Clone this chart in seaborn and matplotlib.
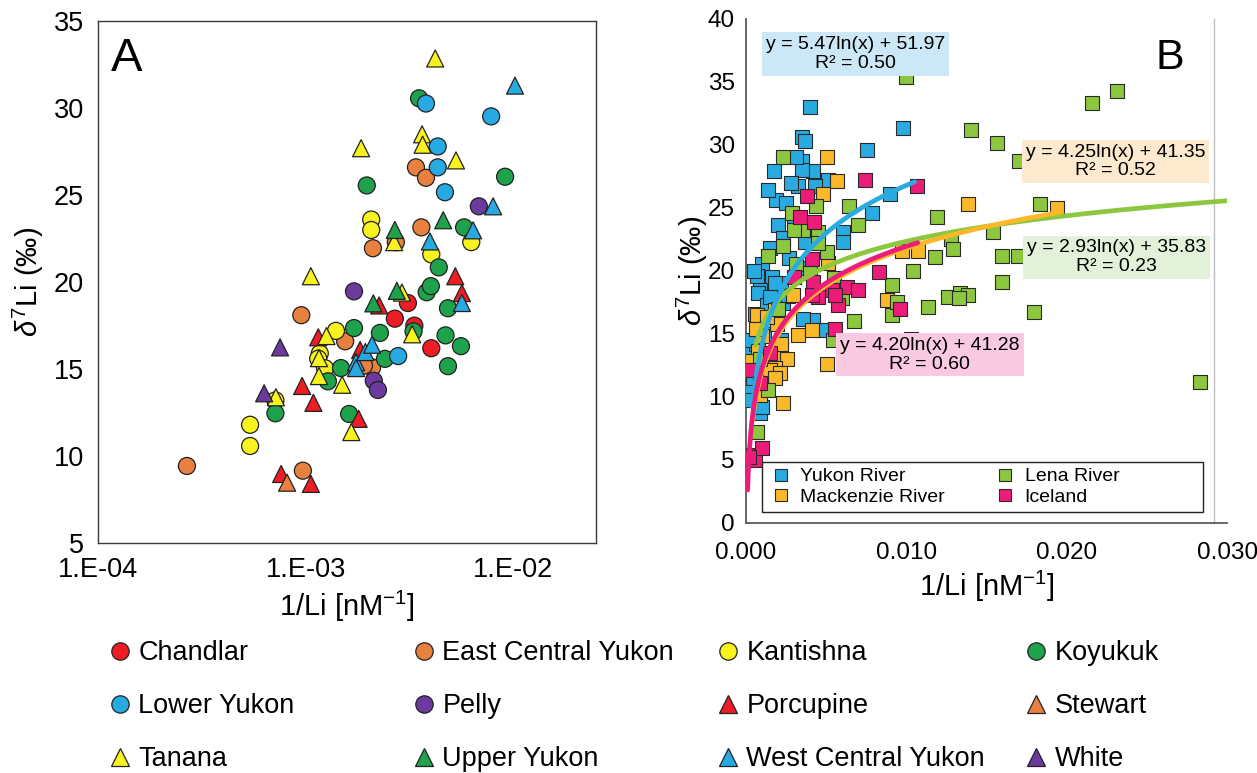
import numpy as np
import pandas as pd
import matplotlib
matplotlib.use("Agg")
import matplotlib.pyplot as plt
from matplotlib.lines import Line2D
from matplotlib.patches import Rectangle
from matplotlib.ticker import FixedLocator, FixedFormatter, NullLocator
import seaborn as sns

sns.set_style("white")
plt.rcParams["font.family"] = ["Liberation Sans", "DejaVu Sans"]
plt.rcParams["mathtext.fontset"] = "custom"
plt.rcParams["mathtext.rm"] = "Liberation Sans"
plt.rcParams["mathtext.it"] = "Liberation Sans:italic"
plt.rcParams["mathtext.bf"] = "Liberation Sans:bold"
for key in ["text.color", "axes.labelcolor", "xtick.color", "ytick.color"]:
    plt.rcParams[key] = "black"

# ---------------- Panel A: Yukon sub-basins (1/Li vs d7Li) ----------------
basins = ["Chandlar", "East Central Yukon", "Kantishna", "Koyukuk",
          "Lower Yukon", "Pelly", "Porcupine", "Stewart",
          "Tanana", "Upper Yukon", "West Central Yukon", "White"]
basin_colors = ["#EE1C25", "#E8803F", "#F8F21E", "#1EA24B",
                "#27AAE1", "#6B3A9C", "#EE1C25", "#E8803F",
                "#F8F21E", "#1EA24B", "#27AAE1", "#6B3A9C"]
basin_markers = ["o", "o", "o", "o", "o", "o", "^", "^", "^", "^", "^", "^"]

chandlar_x = [3.11e-3, 2.69e-3, 3.34e-3, 4.03e-3]
chandlar_y = [18.8, 17.9, 17.5, 16.2]
east_central_x = [2.68e-4, 9.7e-4, 9.53e-4, 1.55e-3, 2.09e-3, 1.91e-3, 2.11e-3, 2.72e-3, 3.40e-3, 3.80e-3, 3.61e-3]
east_central_y = [9.43, 9.16, 18.1, 16.6, 15.1, 15.2, 21.95, 22.3, 26.6, 26.0, 23.15]
kantishna_x = [5.4e-4, 5.4e-4, 7.15e-4, 1.17e-3, 1.15e-3, 1.24e-3, 1.40e-3, 2.07e-3, 2.07e-3, 4.03e-3, 6.28e-3]
kantishna_y = [11.8, 10.58, 13.2, 15.9, 15.6, 15.05, 17.2, 23.6, 23.0, 21.6, 22.3]
koyukuk_x = [7.15e-4, 1.28e-3, 1.48e-3, 1.62e-3, 1.71e-3, 1.97e-3, 2.28e-3, 2.41e-3, 3.31e-3, 3.52e-3,
             3.83e-3, 4.01e-3, 4.38e-3, 4.85e-3, 4.72e-3, 4.85e-3, 5.6e-3, 5.8e-3, 9.14e-3]
koyukuk_y = [12.46, 14.3, 15.06, 12.42, 17.36, 25.56, 17.08, 15.59, 17.17, 30.57,
             19.42, 19.77, 20.85, 18.5, 16.94, 15.17, 16.32, 23.15, 26.06]
lower_yukon_x = [2.79e-3, 3.80e-3, 4.33e-3, 4.33e-3, 4.69e-3, 7.83e-3]
lower_yukon_y = [15.75, 30.27, 27.8, 26.6, 25.17, 29.53]
pelly_x = [1.71e-3, 2.13e-3, 2.23e-3, 6.83e-3]
pelly_y = [19.47, 14.33, 13.8, 24.36]
porcupine_x = [7.62e-4, 1.06e-3, 9.62e-4, 1.09e-3, 1.15e-3, 1.80e-3, 1.83e-3, 2.26e-3, 5.26e-3, 5.66e-3]
porcupine_y = [8.97, 8.4, 14.03, 13.06, 16.83, 12.14, 16.1, 18.66, 20.34, 19.37]
stewart_x = [8.14e-4]
stewart_y = [8.47]
tanana_x = [7.19e-4, 1.06e-3, 1.16e-3, 1.16e-3, 1.26e-3, 1.50e-3, 1.66e-3, 1.85e-3, 2.67e-3, 2.91e-3,
            3.26e-3, 3.64e-3, 3.66e-3, 4.21e-3, 5.3e-3]
tanana_y = [13.38, 20.34, 15.63, 14.6, 16.9, 14.1, 11.38, 27.7, 22.3, 19.4,
            17.0, 28.5, 27.9, 32.86, 27.0]
upper_yukon_x = [2.12e-3, 2.69e-3, 2.75e-3, 4.6e-3]
upper_yukon_y = [18.78, 23.0, 19.5, 23.56]
west_central_x = [1.75e-3, 1.75e-3, 1.94e-3, 2.09e-3, 3.97e-3, 5.66e-3, 6.41e-3, 8.0e-3, 1.02e-2]
west_central_y = [15.4, 15.06, 15.98, 16.4, 22.34, 18.8, 22.98, 24.36, 31.3]
white_x = [6.31e-4, 7.53e-4]
white_y = [13.61, 16.25]

basin_x = [chandlar_x, east_central_x, kantishna_x, koyukuk_x, lower_yukon_x, pelly_x,
           porcupine_x, stewart_x, tanana_x, upper_yukon_x, west_central_x, white_x]
basin_y = [chandlar_y, east_central_y, kantishna_y, koyukuk_y, lower_yukon_y, pelly_y,
           porcupine_y, stewart_y, tanana_y, upper_yukon_y, west_central_y, white_y]

# ---------------- Panel B: large rivers and Iceland ----------------
rivers = ["Yukon River", "Mackenzie River", "Lena River", "Iceland"]
river_colors = ["#29ABE2", "#FBB829", "#8DC63F", "#EC1C79"]

yukon_x = [0.00399, 0.00347, 0.00368, 0.00176, 0.00347, 0.00420, 0.00347, 0.00326, 0.00510, 0.00430,
           0.00187, 0.00201, 0.00606, 0.00606, 0.00232, 0.00368, 0.00098, 0.00160, 0.00087, 0.00220,
           0.00752, 0.00980, 0.00897, 0.00783, 0.00077, 0.00180, 0.00056, 0.00129, 0.00232, 0.00220,
           0.00036, 0.00025, 0.00087, 0.00014, 0.00420, 0.00480, 0.00357, 0.00098, 0.00300, 0.00270,
           0.00150, 0.00110, 0.00060, 0.00030, 0.00020, 0.00045, 0.00120, 0.00260, 0.00330, 0.00070,
           0.00050, 0.00150, 0.00280, 0.00250, 0.00310, 0.00140]
yukon_y = [33.0, 30.6, 30.3, 27.9, 28.7, 27.9, 28.0, 26.7, 27.2, 26.7,
           25.6, 23.6, 23.1, 22.3, 22.6, 22.3, 20.5, 19.5, 18.5, 19.0,
           29.6, 31.3, 26.1, 24.6, 18.2, 19.0, 16.6, 17.3, 17.4, 14.5,
           13.4, 10.5, 8.7, 9.7, 16.1, 15.3, 16.2, 9.2, 24.3, 21.0,
           21.8, 15.0, 14.2, 12.2, 14.5, 11.5, 12.8, 18.0, 20.2, 19.6,
           20.0, 17.9, 27.0, 25.4, 29.0, 26.4]
mackenzie_x = [0.00503, 0.00565, 0.00482, 0.00510, 0.00970, 0.01070, 0.00877, 0.00295, 0.01385, 0.01940,
               0.00066, 0.00180, 0.00326, 0.00410, 0.00190, 0.00077, 0.00170, 0.00254, 0.00180, 0.00150,
               0.00210, 0.00180, 0.00230, 0.00087, 0.00503, 0.00100, 0.00040, 0.00220, 0.00130, 0.00060]
mackenzie_y = [29.0, 27.1, 26.1, 20.6, 21.6, 21.6, 17.7, 18.1, 25.3, 25.0,
               16.5, 16.9, 14.9, 15.3, 15.8, 13.6, 13.2, 13.0, 12.3, 12.1,
               11.9, 11.5, 9.5, 10.1, 12.6, 14.8, 12.8, 14.2, 16.3, 15.4]
lena_x = [0.00997, 0.02154, 0.02310, 0.01400, 0.01562, 0.01703, 0.01832, 0.01192, 0.01537, 0.01277,
          0.01288, 0.01178, 0.01593, 0.01697, 0.01038, 0.01593, 0.00910, 0.01260, 0.01333, 0.01385,
          0.01330, 0.01136, 0.01794, 0.00910, 0.01030, 0.00670, 0.00940, 0.02830, 0.00232, 0.00640,
          0.00700, 0.00285, 0.00232, 0.00436, 0.00357, 0.00450, 0.00300, 0.00139, 0.00503, 0.00450,
          0.00544, 0.00139, 0.00066, 0.00310, 0.00400, 0.00200, 0.00090, 0.00550, 0.00600]
lena_y = [35.4, 33.3, 34.3, 31.2, 30.1, 28.7, 25.3, 24.3, 23.1, 22.5,
          21.7, 21.1, 21.2, 21.2, 20.0, 19.1, 18.9, 17.9, 18.2, 18.1,
          17.8, 17.1, 16.7, 16.5, 14.6, 16.0, 17.5, 11.2, 29.0, 25.1,
          23.6, 24.6, 22.0, 25.1, 23.2, 23.1, 23.2, 21.2, 21.5, 22.2,
          14.5, 10.5, 7.2, 20.5, 19.8, 17.0, 13.0, 19.4, 17.8]
iceland_x = [0.00741, 0.01063, 0.00378, 0.00336, 0.00424, 0.00410, 0.00830, 0.00627, 0.00700, 0.00420,
             0.00534, 0.00450, 0.00575, 0.00410, 0.00554, 0.00554, 0.00036, 0.00087, 0.00004, 0.00056,
             0.00098, 0.00960, 0.00020, 0.00300, 0.00150]
iceland_y = [27.2, 26.7, 25.9, 24.3, 23.9, 20.9, 19.9, 18.7, 18.5, 19.1,
             18.5, 17.9, 17.3, 18.1, 18.1, 15.4, 12.1, 11.1, 5.4, 5.0,
             5.9, 17.0, 5.2, 19.5, 13.5]

river_x = [yukon_x, mackenzie_x, lena_x, iceland_x]
river_y = [yukon_y, mackenzie_y, lena_y, iceland_y]

# logarithmic fits y = a ln(x) + b
fit_slope = [5.47, 4.25, 2.93, 4.20]
fit_intercept = [51.97, 41.35, 35.83, 41.28]
fit_r2 = [0.50, 0.52, 0.23, 0.60]
fit_xmin = [0.0004, 0.0004, 0.0006, 0.0001]
fit_xmax = [0.0105, 0.0195, 0.0300, 0.0107]
fit_box_colors = ["#CCE8F6", "#FDE9CD", "#E3F0DA", "#F9C8E1"]
fit_box_pos = [(0.228, 0.930), (0.768, 0.716), (0.770, 0.527), (0.382, 0.333)]

# ---------------- figure ----------------
fig = plt.figure(figsize=(12.57, 7.73), dpi=100)
axA = fig.add_axes([0.078, 0.2975, 0.396, 0.675])
axB = fig.add_axes([0.5935, 0.3238, 0.383, 0.652])

dfA = pd.concat([pd.DataFrame({"basin": name, "x": xs, "y": ys})
                 for name, xs, ys in zip(basins, basin_x, basin_y)], ignore_index=True)
palA = dict(zip(basins, basin_colors))
mkA = dict(zip(basins, basin_markers))
circ = dfA[dfA["basin"].map(mkA) == "o"]
tri = dfA[dfA["basin"].map(mkA) == "^"]
sns.scatterplot(data=circ, x="x", y="y", hue="basin", palette=palA, marker="o",
                s=150, edgecolor="#222222", linewidth=0.9, legend=False, ax=axA, zorder=3)
sns.scatterplot(data=tri, x="x", y="y", hue="basin", palette=palA, marker="^",
                s=150, edgecolor="#222222", linewidth=0.9, legend=False, ax=axA, zorder=3)

axA.set_xscale("log")
axA.set_xlim(1e-4, 2.5e-2)
axA.set_ylim(5, 35)
axA.xaxis.set_major_locator(FixedLocator([1e-4, 1e-3, 1e-2]))
axA.xaxis.set_major_formatter(FixedFormatter(["1.E-04", "1.E-03", "1.E-02"]))
axA.xaxis.set_minor_locator(NullLocator())
axA.set_yticks(np.arange(5, 36, 5))
for sp in axA.spines.values():
    sp.set_visible(True)
    sp.set_color("#3A3A3A")
    sp.set_linewidth(1.0)
axA.tick_params(direction="in", length=5, width=1, color="#3A3A3A", labelsize=19.5, pad=10)
axA.set_xlabel(r"1/Li [nM$^{-1}$]", fontsize=21)
axA.set_ylabel(r"$\delta^{7}$Li (‰)", fontsize=21)
axA.xaxis.set_label_coords(0.5, -0.088)
axA.yaxis.set_label_coords(-0.104, 0.5)
axA.text(0.058, 0.927, "A", transform=axA.transAxes, fontsize=34, ha="center", va="center")
axA.grid(False)

# panel B scatter
dfB = pd.concat([pd.DataFrame({"river": name, "x": xs, "y": ys})
                 for name, xs, ys in zip(rivers, river_x, river_y)], ignore_index=True)
palB = dict(zip(rivers, river_colors))
for name in rivers:
    sns.scatterplot(data=dfB[dfB["river"] == name], x="x", y="y", color=palB[name], marker="s",
                    s=110, edgecolor="#2A2A2A", linewidth=0.8, legend=False, ax=axB, zorder=3)

# trend lines (drawn on top of the points)
for i in [2, 1, 0, 3]:
    xs = np.linspace(fit_xmin[i], fit_xmax[i], 300)
    ys = fit_slope[i] * np.log(xs) + fit_intercept[i]
    sns.lineplot(x=xs, y=ys, color=river_colors[i], linewidth=3.4, ax=axB, zorder=4,
                 sort=False, estimator=None)

for i in range(4):
    label = f"y = {fit_slope[i]:.2f}ln(x) + {fit_intercept[i]:.2f}\nR² = {fit_r2[i]:.2f}"
    axB.text(fit_box_pos[i][0], fit_box_pos[i][1], label, transform=axB.transAxes,
             fontsize=14, ha="center", va="center", linespacing=1.1, zorder=6,
             bbox=dict(boxstyle="square,pad=0.2", fc=fit_box_colors[i], ec="none"))

axB.set_xlim(0, 0.030)
axB.set_ylim(0, 40)
axB.set_xticks([0, 0.010, 0.020, 0.030])
axB.set_xticklabels(["0.000", "0.010", "0.020", "0.030"])
axB.set_yticks(np.arange(0, 41, 5))
axB.spines["top"].set_visible(False)
for side in ["left", "bottom"]:
    axB.spines[side].set_visible(True)
    axB.spines[side].set_color("#595959")
    axB.spines[side].set_linewidth(1.3)
axB.spines["right"].set_visible(True)
axB.spines["right"].set_color("#C0C0C0")
axB.spines["right"].set_linewidth(1.0)
axB.spines["right"].set_position(("axes", 0.972))
axB.tick_params(axis="y", direction="in", length=6, width=1, color="#595959", labelsize=17.5, pad=8)
axB.tick_params(axis="x", direction="in", length=0, labelsize=17.5, pad=14)
axB.tick_params(right=False)
axB.set_xlabel(r"1/Li [nM$^{-1}$]", fontsize=21)
axB.set_ylabel(r"$\delta^{7}$Li (‰)", fontsize=21)
axB.xaxis.set_label_coords(0.5, -0.092)
axB.yaxis.set_label_coords(-0.075, 0.5)
axB.text(0.88, 0.922, "B", transform=axB.transAxes, fontsize=31, ha="center", va="center")
axB.grid(False)

# legend frame for the river series
axB.add_patch(Rectangle((0.033, 0.021), 0.916, 0.099, transform=axB.transAxes,
                        fc="white", ec="#222222", lw=1.0, zorder=6))
handlesB = [Line2D([], [], linestyle="none", marker="s", markersize=8.5, markerfacecolor=c,
                   markeredgecolor="#2A2A2A", markeredgewidth=0.8) for c in river_colors]
legB = axB.legend(handlesB, rivers, ncol=2, loc="center left",
                  bbox_to_anchor=(0.056, 0.071), borderaxespad=0, borderpad=0,
                  fontsize=14, frameon=False, columnspacing=2.7,
                  handlelength=0.8, handletextpad=0.6, labelspacing=0.15)
legB.set_zorder(7)

# bottom legend: four columns, three rows
col_left = [110, 414, 718, 1026]
for c in range(4):
    idx = [c, c + 4, c + 8]
    hs = [Line2D([], [], linestyle="none", marker=basin_markers[i], markersize=12.5,
                 markerfacecolor=basin_colors[i], markeredgecolor="#222222", markeredgewidth=0.9)
          for i in idx]
    fig.legend(hs, [basins[i] for i in idx], loc="upper left",
               bbox_to_anchor=(col_left[c] / 1257, 0.172), borderaxespad=0, borderpad=0,
               frameon=False, fontsize=19.5, handlelength=0.75, handletextpad=0.3,
               labelspacing=1.0)

fig.savefig("out.png", dpi=100)
